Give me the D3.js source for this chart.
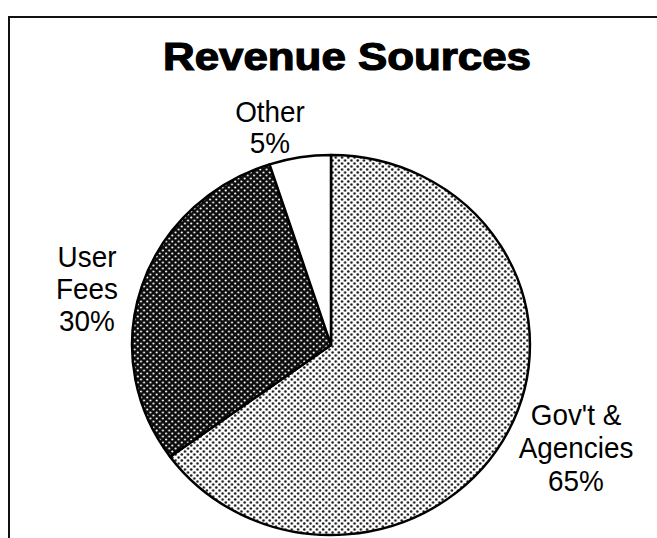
<!DOCTYPE html>
<html>
<head>
<meta charset="utf-8">
<script src="https://cdn.jsdelivr.net/npm/d3@7"></script>
<style>
  html, body { margin: 0; padding: 0; background: #fff; }
  svg { display: block; }
</style>
</head>
<body>
<div id="chart"></div>
<script>
// Revenue shares, in percent
const categories = ["Gov't & Agencies", "User Fees", "Other"];
const shares = [65, 30, 5];
const labelLines = [["Gov't &", "Agencies", "65%"], ["User", "Fees", "30%"], ["Other", "5%"]];
const title = "Revenue Sources";

const W = 657, H = 538;
const svg = d3.select("#chart").append("svg").attr("width", W).attr("height", H);

// halftone fills
const defs = svg.append("defs");
const light = defs.append("pattern").attr("id", "halftone-light")
  .attr("patternUnits", "userSpaceOnUse").attr("width", 6).attr("height", 6);
light.append("rect").attr("width", 6).attr("height", 6).attr("fill", "#fff");
light.selectAll("circle").data([[1.5, 1.5], [4.5, 4.5]]).join("circle")
  .attr("cx", d => d[0]).attr("cy", d => d[1]).attr("r", 1.2).attr("fill", "#1a1a1a");

const dark = defs.append("pattern").attr("id", "halftone-dark")
  .attr("patternUnits", "userSpaceOnUse").attr("width", 6).attr("height", 6);
dark.append("rect").attr("width", 6).attr("height", 6).attr("fill", "#0d0d0d");
dark.selectAll("circle").data([[1.5, 1.5], [4.5, 4.5]]).join("circle")
  .attr("cx", d => d[0]).attr("cy", d => d[1]).attr("r", 1.0).attr("fill", "#fff");

const fills = d3.scaleOrdinal().domain(categories)
  .range(["url(#halftone-light)", "url(#halftone-dark)", "#fff"]);

// frame
svg.append("line").attr("x1", 9).attr("y1", 17).attr("x2", W).attr("y2", 17)
  .attr("stroke", "#111").attr("stroke-width", 2);
svg.append("line").attr("x1", 9).attr("y1", 16).attr("x2", 9).attr("y2", H)
  .attr("stroke", "#111").attr("stroke-width", 2);

// title
svg.append("text").attr("x", 347).attr("y", 70)
  .attr("text-anchor", "middle")
  .attr("font-family", "'Liberation Sans', Arial, sans-serif")
  .attr("font-weight", 900).attr("font-size", 38)
  .attr("stroke", "#000").attr("stroke-width", 1.2)
  .attr("textLength", 368).attr("lengthAdjust", "spacingAndGlyphs")
  .text(title);

// pie (slightly wider than tall)
const R = 190;
const pie = d3.pie().sort(null).value(d => d.v);
const arcs = pie(categories.map((c, i) => ({ c, v: shares[i] })));
const arc = d3.arc().innerRadius(0).outerRadius(R);

const g = svg.append("g").attr("transform", "translate(331,345) scale(1.047,1)");
g.selectAll("path").data(arcs).join("path")
  .attr("d", arc)
  .attr("fill", d => fills(d.data.c))
  .attr("stroke", "#000")
  .attr("stroke-width", 2.4)
  .attr("stroke-linejoin", "round");

// labels, set in a slightly narrowed face
const labelPos = [[576, 425], [87, 267], [270, 122]];
const lineGap = [33, 32, 31];
const labels = svg.append("g")
  .attr("font-family", "'Liberation Sans', Arial, sans-serif")
  .attr("font-size", 30).attr("fill", "#000").attr("text-anchor", "middle");
labelLines.forEach((lines, i) => {
  const [x, y] = labelPos[i];
  const t = labels.append("text")
    .attr("transform", `translate(${x},${y}) scale(0.93,1)`);
  lines.forEach((s, j) => {
    t.append("tspan").attr("x", 0).attr("dy", j === 0 ? 0 : lineGap[i]).text(s);
  });
});
</script>
</body>
</html>
